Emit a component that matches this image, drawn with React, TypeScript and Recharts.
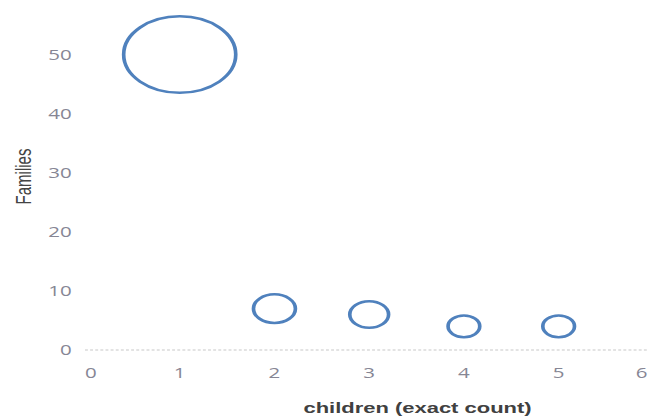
import React from 'react';
import { ScatterChart, Scatter, XAxis, YAxis, ZAxis, Label } from 'recharts';

// values
const children = [1, 2, 3, 4, 5];
const families = [50, 7, 6, 4, 4];
const xTicks = [0, 1, 2, 3, 4, 5, 6];
const yTicks = [0, 10, 20, 30, 40, 50];

const data = children.map((c, i) => ({ children: c, families: families[i] }));

// the reference picture is stretched sideways, so the chart is drawn narrow and scaled
const STRETCH = 1.465;
const tickFont = { fontFamily: 'Open Sans', fontSize: 14, fill: '#868694' };

function XTick(props: any) {
  const { x, y, payload, index } = props;
  const last = index === xTicks.length - 1;
  const anchor = index === 0 ? 'start' : last ? 'end' : 'middle';
  return (
    <text x={x} y={y} dx={last ? -4 : 0} dy="0.71em" textAnchor={anchor} {...tickFont}>
      {payload.value}
    </text>
  );
}

function FamiliesLabel(props: any) {
  const vb = props.viewBox;
  const cx = vb.x + 21.5;
  const cy = vb.y + vb.height / 2 - 11;
  return (
    <text x={cx} y={cy} transform={`rotate(-90, ${cx}, ${cy})`} textAnchor="middle"
      fontFamily="Liberation Sans" fontSize={15} fill="#444">
      Families
    </text>
  );
}

export default function App() {
  return (
    <div style={{ position: 'absolute', left: 0, top: 0, width: 649, height: 418, overflow: 'hidden', background: '#fff' }}>
      <div style={{ transform: `scaleX(${STRETCH})`, transformOrigin: '0 0', width: 446 }}>
        <ScatterChart width={446} height={418} margin={{ top: 25, right: 0, bottom: 0, left: 0 }}>
          <XAxis type="number" dataKey="children" domain={[0, 6]} ticks={xTicks} interval={0}
            height={68} tickLine={false} tickSize={0} tickMargin={18}
            axisLine={{ stroke: '#c8c8c8', strokeDasharray: '2 1.5' }} tick={<XTick />}>
            <Label value="children (exact count)" position="insideBottom" offset={5} dx={33}
              style={{ fontFamily: 'Liberation Sans', fontSize: 15, fontWeight: 700, fill: '#404040' }} />
          </XAxis>
          <YAxis type="number" dataKey="families" domain={[0, 55]} ticks={yTicks} width={58}
            tickLine={false} axisLine={false} tickSize={0} tickMargin={9} tick={tickFont}>
            <Label content={<FamiliesLabel />} />
          </YAxis>
          <ZAxis type="number" dataKey="families" domain={[0, 50]} range={[0, 4596]} />
          <Scatter data={data} fill="none" stroke="#4f81bd" strokeWidth={2.5} isAnimationActive={false} />
        </ScatterChart>
      </div>
    </div>
  );
}
